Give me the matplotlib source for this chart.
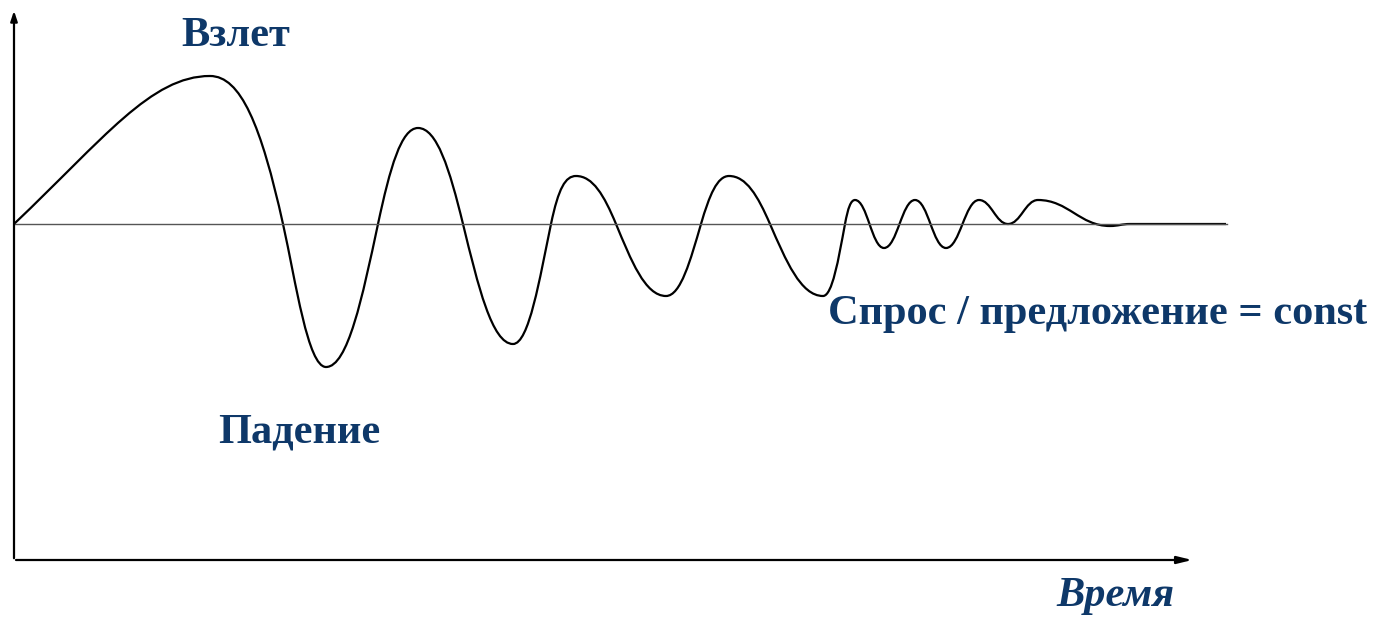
import numpy as np
import matplotlib
matplotlib.use("Agg")
import matplotlib.pyplot as plt
from matplotlib.path import Path
from matplotlib.patches import PathPatch

# points: extrema and zero crossings (time, deviation)
t_pts = [0, 196, 269, 312, 364, 404, 449, 499, 537, 562, 602, 652, 687, 715, 756, 809,
         831, 841, 870, 901, 932, 965, 994, 1024, 1096, 1116, 1212]
v_pts = [0, 148, 0, -143, 0, 96, 0, -120, 0, 48, 0, -72, 0, 48, 0, -72,
         0, 24, -24, 24, -24, 24, 0, 24, -2, 0, 0]
start_slope = 0.95          # initial rise is almost straight

labels = ["Взлет", "Падение", "Спрос / предложение = const", "Время"]
BLUE = "#0e3869"

fig = plt.figure(figsize=(13.91, 6.18), dpi=100)
ax = fig.add_axes([0, 0, 1, 1])
ax.set_xlim(-14, 1377)
ax.set_ylim(-394, 224)
ax.axis("off")

# axes with arrows
ax.annotate("", xy=(0, 216), xytext=(0, -337),
            arrowprops=dict(arrowstyle="-|>,head_length=0.6,head_width=0.2", color="black", lw=1.6))
ax.annotate("", xy=(1181, -336), xytext=(-0.8, -336),
            arrowprops=dict(arrowstyle="-|>,head_length=0.9,head_width=0.22", color="black", lw=1.6))
# equilibrium line
ax.plot([0, 1213], [0, 0], color="#555555", lw=1.0)

# tangent at each point: flat at extrema, steep at zero crossings
n = len(t_pts)
slopes = []
for i in range(n):
    if i == 0:
        slopes.append(start_slope)
    elif 0 < i < n - 1 and v_pts[i] == 0 and v_pts[i - 1] * v_pts[i + 1] < 0:
        slopes.append(1.8 * (v_pts[i + 1] - v_pts[i - 1]) / (t_pts[i + 1] - t_pts[i - 1]))
    else:
        slopes.append(0.0)

verts = [(t_pts[0], v_pts[0])]
codes = [Path.MOVETO]
for i in range(n - 1):
    x0, y0, x1, y1 = t_pts[i], v_pts[i], t_pts[i + 1], v_pts[i + 1]
    d = x1 - x0
    # longer handles on the flat (extremum) side give rounder tops
    h0 = d * (0.42 if slopes[i] == 0 else 0.3)
    h1 = d * (0.42 if slopes[i + 1] == 0 else 0.3)
    if i == 0:
        h0, h1 = d * 0.46, d * 0.3
    verts += [(x0 + h0, y0 + slopes[i] * h0), (x1 - h1, y1 - slopes[i + 1] * h1), (x1, y1)]
    codes += [Path.CURVE4] * 3
ax.add_patch(PathPatch(Path(verts, codes), fill=False, lw=1.6, color="black",
                       capstyle="butt", joinstyle="round"))

font = dict(family=["Liberation Serif", "DejaVu Serif"], weight="bold", color=BLUE, fontsize=30.5)
ax.text(222, 178, labels[0], ha="center", va="baseline", **font)
ax.text(285, -218, labels[1], ha="center", va="baseline", **font)
ax.text(1084, -100, labels[2], ha="center", va="baseline", **font)
ax.text(1101, -382, labels[3], ha="center", va="baseline", style="italic", **font)

fig.savefig("out.png", dpi=100)
